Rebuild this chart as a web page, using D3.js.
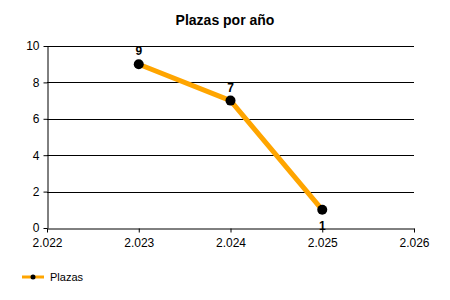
<!DOCTYPE html>
<html>
<head>
<meta charset="utf-8">
<script src="https://cdn.jsdelivr.net/npm/d3@7"></script>
<style>
  body { margin: 0; background: #fff; }
  text { font-family: "Liberation Sans", Arial, sans-serif; }
</style>
</head>
<body>
<svg id="chart" width="450" height="300"></svg>
<script>
const years = [2.023, 2.024, 2.025];
const plazas = [9, 7, 1];
const xTicks = [2.022, 2.023, 2.024, 2.025, 2.026];
const yTicks = [0, 2, 4, 6, 8, 10];
const seriesName = "Plazas";
const title = "Plazas por año";

const svg = d3.select("#chart");
const plotLeft = 47, plotRight = 414, plotTop = 46, plotBottom = 228;

const x = d3.scaleLinear().domain([2.022, 2.026]).range([plotLeft, plotRight]);
const y = d3.scaleLinear().domain([0, 10]).range([plotBottom, plotTop]);

svg.append("text")
    .attr("x", 225).attr("y", 25)
    .attr("text-anchor", "middle")
    .attr("font-size", "14px").attr("font-weight", "bold")
    .text(title);

// grid lines
svg.append("g").selectAll("line")
    .data(yTicks.filter(d => d > 0))
    .enter().append("line")
    .attr("x1", plotLeft).attr("x2", plotRight)
    .attr("y1", d => Math.round(y(d)) + 0.5).attr("y2", d => Math.round(y(d)) + 0.5)
    .attr("stroke", "#000").attr("stroke-width", 1);

let fmt = d3.format(".3f");

let gx = svg.append("g")
    .attr("transform", "translate(0," + (plotBottom + 0.5) + ")")
    .call(d3.axisBottom(x).tickValues(xTicks).tickSize(4).tickSizeOuter(0).tickFormat(fmt));
let gy = svg.append("g")
    .attr("transform", "translate(" + (plotLeft + 0.5) + ",0)")
    .call(d3.axisLeft(y).tickValues(yTicks).tickSize(4).tickSizeOuter(0));

[gx, gy].forEach(g => {
    g.selectAll("text").attr("font-size", "12px").attr("fill", "#000")
        .attr("font-family", "Liberation Sans, Arial, sans-serif");
    g.selectAll("line").attr("stroke", "#000");
    g.select(".domain").attr("stroke", "#000");
});
gx.selectAll("text").attr("dy", "0.95em");
gy.selectAll("text").attr("dx", "-1px");

const data = years.map((d, i) => ({ x: d, y: plazas[i] }));

svg.append("path")
    .datum(data)
    .attr("fill", "none")
    .attr("stroke", "#FFA500")
    .attr("stroke-width", 5)
    .attr("stroke-linejoin", "round")
    .attr("d", d3.line().x(d => x(d.x)).y(d => y(d.y)));

svg.append("g").selectAll("circle")
    .data(data)
    .enter().append("circle")
    .attr("cx", d => x(d.x)).attr("cy", d => y(d.y))
    .attr("r", 5).attr("fill", "#000");

svg.append("g").selectAll("text")
    .data(data)
    .enter().append("text")
    .attr("x", d => x(d.x))
    .attr("y", (d, i) => i === data.length - 1 ? y(d.y) + 20 : y(d.y) - 9)
    .attr("text-anchor", "middle")
    .attr("font-size", "12px").attr("font-weight", "bold")
    .text(d => d.y);

// legend
let lg = svg.append("g").attr("transform", "translate(22,277)");
lg.append("line").attr("x1", 0).attr("x2", 22).attr("y1", 0).attr("y2", 0)
    .attr("stroke", "#FFA500").attr("stroke-width", 3);
lg.append("circle").attr("cx", 11).attr("cy", 0).attr("r", 2.5).attr("fill", "#000");
lg.append("text").attr("x", 28).attr("y", 4).attr("font-size", "11px").text(seriesName);
</script>
</body>
</html>
